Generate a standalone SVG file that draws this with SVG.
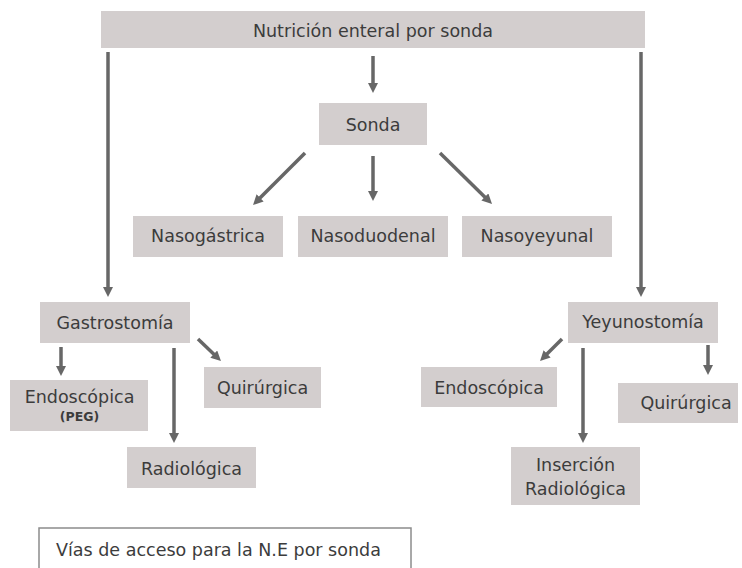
<svg xmlns="http://www.w3.org/2000/svg" width="742" height="568" viewBox="0 0 742 568">
<style>
.box{fill:#d3cece;}
.t{font-family:"DejaVu Sans","Liberation Sans",sans-serif;font-size:17.5px;fill:#3c3c3c;text-anchor:middle;}
.small{font-family:"DejaVu Sans","Liberation Sans",sans-serif;font-size:12.5px;font-weight:bold;fill:#3c3c3c;text-anchor:middle;}
.c{stroke:#676767;stroke-width:3.5;fill:none;marker-end:url(#ah);}
.legend{fill:#ffffff;stroke:#8c8c8c;stroke-width:1.5;}
</style>
<defs>
<marker id="ah" viewBox="0 0 10 10" refX="2" refY="5" markerWidth="10" markerHeight="10" markerUnits="userSpaceOnUse" orient="auto">
<path d="M0,0 L10,5 L0,10 z" fill="#676767"/>
</marker>
</defs>
<rect width="742" height="568" fill="#ffffff"/>
<g id="connectors">
<line class="c" x1="373" y1="56" x2="373" y2="85"/>
<line class="c" x1="108" y1="52" x2="108" y2="289"/>
<line class="c" x1="641" y1="52" x2="641" y2="289"/>
<line class="c" x1="305" y1="153" x2="258.7" y2="199.3"/>
<line class="c" x1="373" y1="156" x2="373" y2="193"/>
<line class="c" x1="440" y1="153" x2="486.3" y2="198.4"/>
<line class="c" x1="61" y1="347" x2="61" y2="368"/>
<line class="c" x1="174" y1="348" x2="174" y2="435"/>
<line class="c" x1="198" y1="339" x2="215.2" y2="355.5"/>
<line class="c" x1="562" y1="339" x2="545.7" y2="355.3"/>
<line class="c" x1="583" y1="348" x2="583" y2="435"/>
<line class="c" x1="708" y1="345" x2="708" y2="367"/>
</g>
<g id="n-top"><rect class="box" x="101" y="11" width="544" height="37"/><text class="t" x="373" y="37">Nutrición enteral por sonda</text></g>
<g id="n-sonda"><rect class="box" x="319" y="103" width="108" height="42"/><text class="t" x="373" y="130.5">Sonda</text></g>
<g id="n-nasogastrica"><rect class="box" x="133" y="216" width="150" height="41"/><text class="t" x="208" y="242">Nasogástrica</text></g>
<g id="n-nasoduodenal"><rect class="box" x="298" y="216" width="150" height="41"/><text class="t" x="373" y="242">Nasoduodenal</text></g>
<g id="n-nasoyeyunal"><rect class="box" x="462" y="216" width="150" height="41"/><text class="t" x="537" y="242">Nasoyeyunal</text></g>
<g id="n-gastrostomia"><rect class="box" x="40" y="302" width="150" height="41"/><text class="t" x="115" y="329">Gastrostomía</text></g>
<g id="n-yeyunostomia"><rect class="box" x="568" y="302" width="150" height="41"/><text class="t" x="643" y="328">Yeyunostomía</text></g>
<g id="n-endoscopica-peg"><rect class="box" x="10" y="380" width="138" height="51"/><text class="t" x="79.5" y="402.5">Endoscópica</text><text class="small" x="79.5" y="421">(PEG)</text></g>
<g id="n-quirurgica-g"><rect class="box" x="204" y="367" width="117" height="41"/><text class="t" x="262.5" y="394">Quirúrgica</text></g>
<g id="n-radiologica"><rect class="box" x="127" y="447" width="129" height="41"/><text class="t" x="191.5" y="475">Radiológica</text></g>
<g id="n-endoscopica-y"><rect class="box" x="421" y="367" width="136" height="40"/><text class="t" x="489" y="394">Endoscópica</text></g>
<g id="n-quirurgica-y"><rect class="box" x="618" y="383" width="120" height="40"/><text class="t" x="686" y="409">Quirúrgica</text></g>
<g id="n-insercion"><rect class="box" x="511" y="447" width="129" height="58"/><text class="t" x="575.5" y="471">Inserción</text><text class="t" x="575.5" y="495">Radiológica</text></g>
<g id="legend"><rect class="legend" x="39" y="528" width="372" height="50"/><text class="t" x="56" y="556" style="text-anchor:start">Vías de acceso para la N.E por sonda</text></g>
</svg>
